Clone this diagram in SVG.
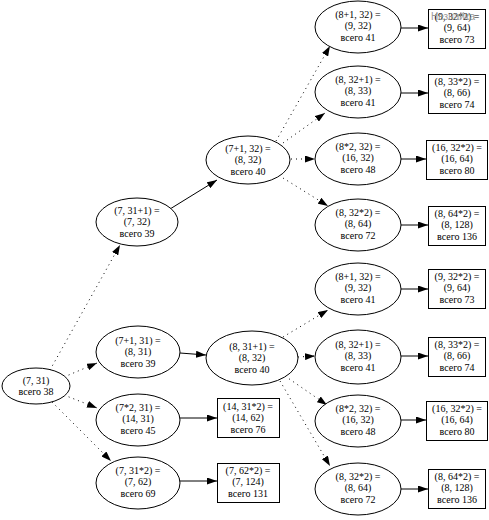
<svg xmlns="http://www.w3.org/2000/svg" width="489" height="520" viewBox="0 0 489 520">
<defs>
<marker id="ah" markerWidth="10" markerHeight="7" refX="10" refY="3.5" orient="auto" markerUnits="userSpaceOnUse">
<path d="M0,0 L10,3.5 L0,7 z" fill="#000"/>
</marker>
</defs>
<style>
.n ellipse, .n rect { fill: #fff; stroke: #000; stroke-width: 1; }
.n text { font-size: 10px; text-anchor: middle; fill: #000; }
.e line { stroke: #000; stroke-width: 1; marker-end: url(#ah); }
.e .d { stroke-dasharray: 1,4; }
.wm { font-size: 10px; fill: #999; }
</style>
<rect width="489" height="520" fill="#fff"/>
<g id="edges" class="e">
<line class="d" x1="50" y1="370" x2="120" y2="245"/>
<line class="d" x1="64" y1="377" x2="97" y2="363"/>
<line class="d" x1="64" y1="395" x2="97" y2="408"/>
<line class="d" x1="52" y1="402" x2="111" y2="461"/>
<line x1="170" y1="209" x2="217" y2="180"/>
<line x1="180" y1="353" x2="206" y2="355"/>
<line x1="180" y1="418" x2="217" y2="418"/>
<line x1="180" y1="481" x2="217" y2="481"/>
<line class="d" x1="276" y1="141" x2="330" y2="46"/>
<line class="d" x1="283" y1="143" x2="325" y2="113"/>
<line class="d" x1="291" y1="159" x2="315" y2="159"/>
<line class="d" x1="283" y1="178" x2="328" y2="206"/>
<line class="d" x1="283" y1="337" x2="328" y2="310"/>
<line class="d" x1="298" y1="357" x2="315" y2="356"/>
<line class="d" x1="285" y1="376" x2="327" y2="405"/>
<line class="d" x1="280" y1="381" x2="330" y2="466"/>
<line x1="401" y1="28" x2="428" y2="28"/>
<line x1="401" y1="93" x2="428" y2="93"/>
<line x1="401" y1="159" x2="426" y2="159"/>
<line x1="401" y1="225" x2="428" y2="225"/>
<line x1="401" y1="289" x2="428" y2="289"/>
<line x1="401" y1="356" x2="428" y2="356"/>
<line x1="401" y1="420" x2="426" y2="420"/>
<line x1="401" y1="489" x2="428" y2="489"/>
</g>
<g font-family="'Liberation Serif', 'Times New Roman', serif">
<g id="n_7_31" class="n"><ellipse cx="36" cy="386" rx="34" ry="18"/><text x="36" y="384">(7, 31)</text><text x="36" y="395">всего 38</text></g>
<g id="n_7_32" class="n"><ellipse cx="137" cy="222" rx="41" ry="24"/><text x="137" y="214">(7, 31+1) =</text><text x="137" y="225">(7, 32)</text><text x="137" y="237">всего 39</text></g>
<g id="n_8_31" class="n"><ellipse cx="138" cy="352" rx="42" ry="26"/><text x="138" y="344">(7+1, 31) =</text><text x="138" y="355">(8, 31)</text><text x="138" y="367">всего 39</text></g>
<g id="n_14_31" class="n"><ellipse cx="138" cy="420" rx="42" ry="26"/><text x="138" y="411">(7*2, 31) =</text><text x="138" y="422">(14, 31)</text><text x="138" y="434">всего 45</text></g>
<g id="n_7_62" class="n"><ellipse cx="138" cy="483" rx="42" ry="26"/><text x="138" y="474">(7, 31*2) =</text><text x="138" y="485">(7, 62)</text><text x="138" y="497">всего 69</text></g>
<g id="n_8_32a" class="n"><ellipse cx="248" cy="160" rx="42" ry="24"/><text x="248" y="152">(7+1, 32) =</text><text x="248" y="163">(8, 32)</text><text x="248" y="175">всего 40</text></g>
<g id="n_8_32b" class="n"><ellipse cx="252" cy="358" rx="46" ry="27"/><text x="252" y="350">(8, 31+1) =</text><text x="252" y="361">(8, 32)</text><text x="252" y="373">всего 40</text></g>
<g id="b_14_62" class="n"><rect x="217.5" y="398.5" width="62" height="39"/><text x="248" y="410">(14, 31*2) =</text><text x="248" y="421">(14, 62)</text><text x="248" y="433">всего 76</text></g>
<g id="b_7_124" class="n"><rect x="217.5" y="463.5" width="62" height="39"/><text x="248" y="474">(7, 62*2) =</text><text x="248" y="485">(7, 124)</text><text x="248" y="497">всего 131</text></g>
<g id="n_9_32a" class="n"><ellipse cx="358" cy="27" rx="43" ry="26"/><text x="358" y="18">(8+1, 32) =</text><text x="358" y="29">(9, 32)</text><text x="358" y="41">всего 41</text></g>
<g id="n_8_33a" class="n"><ellipse cx="358" cy="92" rx="43" ry="26"/><text x="358" y="83">(8, 32+1) =</text><text x="358" y="94">(8, 33)</text><text x="358" y="106">всего 41</text></g>
<g id="n_16_32a" class="n"><ellipse cx="358" cy="159" rx="43" ry="26"/><text x="358" y="150">(8*2, 32) =</text><text x="358" y="161">(16, 32)</text><text x="358" y="173">всего 48</text></g>
<g id="n_8_64a" class="n"><ellipse cx="358" cy="225" rx="43" ry="26"/><text x="358" y="216">(8, 32*2) =</text><text x="358" y="227">(8, 64)</text><text x="358" y="239">всего 72</text></g>
<g id="n_9_32b" class="n"><ellipse cx="358" cy="289" rx="43" ry="26"/><text x="358" y="280">(8+1, 32) =</text><text x="358" y="291">(9, 32)</text><text x="358" y="303">всего 41</text></g>
<g id="n_8_33b" class="n"><ellipse cx="358" cy="357" rx="43" ry="27"/><text x="358" y="348">(8, 32+1) =</text><text x="358" y="359">(8, 33)</text><text x="358" y="371">всего 41</text></g>
<g id="n_16_32b" class="n"><ellipse cx="358" cy="421" rx="43" ry="26"/><text x="358" y="412">(8*2, 32) =</text><text x="358" y="423">(16, 32)</text><text x="358" y="435">всего 48</text></g>
<g id="n_8_64b" class="n"><ellipse cx="358" cy="489" rx="43" ry="26"/><text x="358" y="480">(8, 32*2) =</text><text x="358" y="491">(8, 64)</text><text x="358" y="503">всего 72</text></g>
<g id="b_9_64a" class="n"><rect x="428.5" y="9.5" width="57" height="39"/><text x="457" y="20">(9, 32*2) =</text><text x="457" y="31">(9, 64)</text><text x="457" y="43">всего 73</text></g>
<g id="b_8_66a" class="n"><rect x="428.5" y="74.5" width="57" height="39"/><text x="457" y="85">(8, 33*2) =</text><text x="457" y="96">(8, 66)</text><text x="457" y="108">всего 74</text></g>
<g id="b_16_64a" class="n"><rect x="426.5" y="140.5" width="61" height="39"/><text x="457" y="151">(16, 32*2) =</text><text x="457" y="162">(16, 64)</text><text x="457" y="174">всего 80</text></g>
<g id="b_8_128a" class="n"><rect x="428.5" y="206.5" width="57" height="39"/><text x="457" y="217">(8, 64*2) =</text><text x="457" y="228">(8, 128)</text><text x="457" y="240">всего 136</text></g>
<g id="b_9_64b" class="n"><rect x="428.5" y="269.5" width="57" height="39"/><text x="457" y="280">(9, 32*2) =</text><text x="457" y="291">(9, 64)</text><text x="457" y="303">всего 73</text></g>
<g id="b_8_66b" class="n"><rect x="428.5" y="337.5" width="57" height="39"/><text x="457" y="348">(8, 33*2) =</text><text x="457" y="359">(8, 66)</text><text x="457" y="371">всего 74</text></g>
<g id="b_16_64b" class="n"><rect x="426.5" y="401.5" width="61" height="39"/><text x="457" y="412">(16, 32*2) =</text><text x="457" y="423">(16, 64)</text><text x="457" y="435">всего 80</text></g>
<g id="b_8_128b" class="n"><rect x="428.5" y="469.5" width="57" height="39"/><text x="457" y="480">(8, 64*2) =</text><text x="457" y="491">(8, 128)</text><text x="457" y="503">всего 136</text></g>
</g>
<text class="wm" x="431" y="20" font-family="'Liberation Sans', Arial, sans-serif">Незнайка</text>
</svg>
